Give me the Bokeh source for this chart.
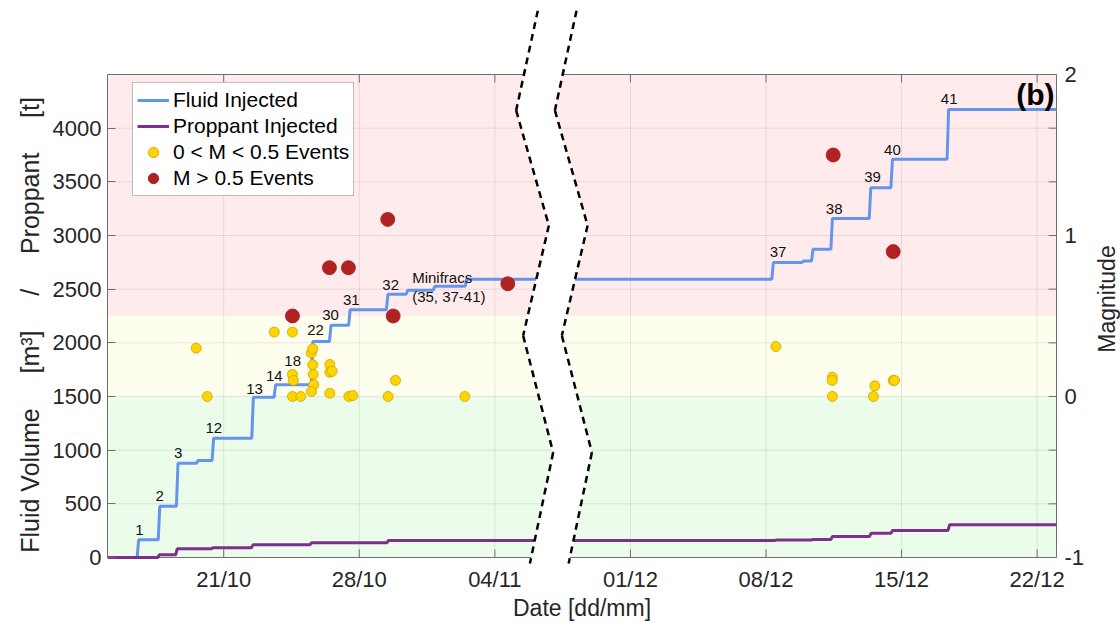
import math
import numpy as np
from bokeh.plotting import figure
from bokeh.models import (Range1d, FixedTicker, BoxAnnotation, PolyAnnotation,
                          Label, Legend, LegendItem, ColumnDataSource, Arrow)
from bokeh.core.properties import value
from bokeh.embed import file_html
from bokeh.resources import INLINE

FONT = "Liberation Sans"
INK = "#262626"
AXIS = "#6e6e6e"
NB = "\u00a0"

# ---------------- data (time = days since 15/10) ----------------
tick_days = [6, 13, 20, 47, 54, 61, 68]
tick_labels = ["21/10", "28/10", "04/11", "01/12", "08/12", "15/12", "22/12"]
GAP_START = 35      # days after this are shifted left (broken axis)
GAP_SHIFT = 20
X_MAX = 49
END_DAY = X_MAX + GAP_SHIFT

fluid_rise_day = [1.53, 2.62, 3.56, 4.60, 5.40, 7.45, 8.60, 10.52, 11.46, 12.45, 14.40,
                  15.42, 16.82, 18.47, 54.30, 55.85, 56.35, 57.35, 59.33, 60.45, 63.35]
fluid_level = [165, 478, 879, 904, 1112, 1493, 1610, 2012, 2163, 2309, 2452,
               2490, 2527, 2592, 2748, 2763, 2872, 3158, 3444, 3711, 4175]

prop_rise_day = [2.60, 3.52, 5.37, 7.43, 10.45, 14.42, 54.45, 56.35, 57.35, 59.35, 60.45, 63.40]
prop_level = [25, 81, 90, 118, 137, 158, 162, 168, 196, 227, 252, 305]

small_day = [4.58, 5.15, 8.61, 9.55, 9.55, 9.60, 9.55, 9.98, 10.52, 10.60, 10.60, 10.62,
             10.65, 10.53, 11.48, 11.48, 11.60, 11.48, 12.46, 12.67, 14.49, 14.87, 18.45,
             54.51, 57.42, 57.42, 57.43, 59.62, 59.55, 60.57, 60.64]
small_mag = [0.30, 0.00, 0.40, 0.40, 0.137, 0.10, 0.00, 0.00, 0.27, 0.296, 0.197, 0.137,
             0.073, 0.031, 0.199, 0.151, 0.157, 0.02, 0.00, 0.006, 0.00, 0.10, 0.00,
             0.31, 0.12, 0.10, 0.00, 0.066, 0.00, 0.10, 0.10]

large_day = [9.55, 11.46, 12.44, 14.47, 14.75, 20.67, 57.47, 60.57]
large_mag = [0.50, 0.80, 0.80, 1.10, 0.50, 0.70, 1.50, 0.90]

stage_text = ["1", "2", "3", "12", "13", "14", "18", "22", "30", "31", "32",
              "37", "38", "39", "40", "41"]
stage_day = [1.65, 2.70, 3.65, 5.49, 7.59, 8.61, 9.56, 10.74, 11.52, 12.59, 14.62,
             54.62, 57.52, 59.50, 60.53, 63.46]
stage_vol = [252, 572, 973, 1206, 1566, 1690, 1828, 2123, 2256, 2396, 2536,
             2847, 3245, 3546, 3801, 4268]

note_text = ["Minifracs", "(35, 37-41)"]
note_day = [15.73, 15.73]
note_vol = [2608, 2436]

vol_ticks = list(range(0, 4001, 500))
VOL_MAX = 4500
mag_ticks = [-1, 0, 1, 2]
zone_edges = [-1, 0, 0.5, 2]                       # magnitude bands
zone_colors = ["#ebfceb", "#fefeee", "#ffebeb"]

# ---------------- layout geometry (pixels) ----------------
AX_LEFT, AX_RIGHT = 107, 1056     # drawn axes box
AX_TOP, AX_BOT = 74, 557
CANVAS_W, CANVAS_H = 1120, 625
FR_TOP, FR_BOT = 10, CANVAS_H     # plotting frame covers everything right of the y axis
PX_PER_DAY = (AX_RIGHT - AX_LEFT) / X_MAX
PX_PER_VOL = (AX_BOT - AX_TOP) / VOL_MAX
X_FULL = X_MAX + (CANVAS_W - AX_RIGHT) / PX_PER_DAY
Y0 = -(FR_BOT - AX_BOT) / PX_PER_VOL
Y1 = VOL_MAX + (AX_TOP - FR_TOP) / PX_PER_VOL
TICK_PX = 8
TICK_VOL = TICK_PX / PX_PER_VOL
TICK_DAY = TICK_PX / PX_PER_DAY


def vol_to_mag(v):
    return (v - 1500.0) / 1500.0


# break marker (decoration), in plot-x / volume units
BREAK_X = [22.22, 21.10, 22.79, 21.46, 23.01, 21.81]
BREAK_Y = [Y1, 4165, 3093, 2068, 978, -6 / PX_PER_VOL]
BREAK_W = 2.0


def to_plot(days):
    d = np.asarray(days, dtype=float)
    return np.where(d > GAP_START, d - GAP_SHIFT, d)


def step_path(rise, levels, end, ramp=0.08):
    xs, ys, prev = [0.0], [0.0], 0.0
    for t, v in zip(rise, levels):
        xs += [t, t + ramp]
        ys += [prev, v]
        prev = v
    xs.append(end)
    ys.append(prev)
    return to_plot(xs), ys


# ---------------- figure ----------------
p = figure(frame_width=CANVAS_W - AX_LEFT, frame_height=FR_BOT - FR_TOP,
           x_range=Range1d(0, X_FULL), y_range=Range1d(Y0, Y1),
           x_axis_location=None,
           output_backend="svg", toolbar_location=None,
           min_border_left=AX_LEFT, min_border_right=0, min_border_top=FR_TOP,
           min_border_bottom=0,
           background_fill_color="white", border_fill_color="white")
p.outline_line_color = None
p.extra_y_ranges = {"mag": Range1d(vol_to_mag(Y0), vol_to_mag(Y1))}
p.xgrid.visible = False
p.ygrid.visible = False

for i in range(3):
    p.add_layout(BoxAnnotation(left=0, right=X_MAX, bottom=zone_edges[i], top=zone_edges[i + 1],
                               y_range_name="mag", fill_color=zone_colors[i], fill_alpha=1.0,
                               line_alpha=0, level="image"))

xt = [float(v) for v in to_plot(tick_days)]
nx = len(xt)

# grid lines (inside the axes box only)
p.segment(x0=xt, y0=[0] * nx, x1=xt, y1=[VOL_MAX] * nx,
          line_color="black", line_alpha=0.09, line_width=1)
p.segment(x0=[0] * len(vol_ticks), y0=vol_ticks, x1=[X_MAX] * len(vol_ticks), y1=vol_ticks,
          line_color="black", line_alpha=0.09, line_width=1)
# top, right and bottom edges of the box, with inward ticks
p.segment(x0=[0, X_MAX, 0], y0=[VOL_MAX, 0, 0], x1=[X_MAX, X_MAX, X_MAX],
          y1=[VOL_MAX, VOL_MAX, 0], line_color=AXIS, line_width=1)
p.segment(x0=xt + xt, y0=[VOL_MAX] * nx + [0] * nx, x1=xt + xt,
          y1=[VOL_MAX - TICK_VOL] * nx + [TICK_VOL] * nx, line_color=AXIS, line_width=1)
rt = vol_ticks + [VOL_MAX]
p.segment(x0=[X_MAX] * len(rt), y0=rt, x1=[X_MAX - TICK_DAY] * len(rt), y1=rt,
          line_color=AXIS, line_width=1)

# date axis labels
p.text(x=xt, y=[0] * nx, text=tick_labels, y_offset=9, text_font=value(FONT),
       text_font_size="22px", text_color=INK, text_align="center", text_baseline="top")
p.text(x=[X_MAX / 2], y=[0], text=["Date [dd/mm]"], y_offset=50, text_font=value(FONT),
       text_font_size="23px", text_color=INK, text_align="center",
       text_baseline="middle")

# right (magnitude) axis labels
p.text(x=[X_MAX] * len(mag_ticks), y=mag_ticks, text=[str(m) for m in mag_ticks],
       y_range_name="mag", x_offset=8, text_font=value(FONT), text_font_size="22px",
       text_color=INK, text_align="left", text_baseline="middle")
p.text(x=[X_MAX], y=[vol_to_mag(VOL_MAX / 2)], text=["Magnitude"], y_range_name="mag",
       x_offset=50, y_offset=-17, angle=math.pi / 2, text_font=value(FONT),
       text_font_size="23px", text_color=INK, text_align="center", text_baseline="middle")

# left (volume) axis
ya = p.yaxis[0]
ya.axis_line_color = AXIS
ya.major_tick_line_color = AXIS
ya.major_tick_in = TICK_PX
ya.major_tick_out = 0
ya.minor_tick_in = 0
ya.minor_tick_out = 0
ya.major_label_text_font = FONT
ya.major_label_text_font_size = "22px"
ya.major_label_text_color = INK
ya.axis_label_text_font = FONT
ya.axis_label_text_font_style = "normal"
ya.axis_label_text_color = INK
ya.ticker = FixedTicker(ticks=vol_ticks)
ya.bounds = (0, VOL_MAX)
GAP = NB * 5
ya.axis_label = ("Fluid" + NB + "Volume" + GAP + "[m³]" + GAP + "/" + GAP + "Proppant"
                 + GAP + "[t]" + NB * 2)
ya.axis_label_text_font_size = "25px"
ya.major_label_standoff = 6
ya.axis_label_standoff = 6

# ---------------- series ----------------
fx, fy = step_path(fluid_rise_day, fluid_level, END_DAY)
px_, py_ = step_path(prop_rise_day, prop_level, END_DAY)
r_fluid = p.line(fx, fy, line_color="#6495ed", line_width=3)
r_prop = p.line(px_, py_, line_color="#7e2f8e", line_width=3)
r_small = p.scatter(to_plot(small_day), small_mag, y_range_name="mag", size=10,
                    fill_color="#ffd500", line_color="#c9a200", line_width=0.8)
r_large = p.scatter(to_plot(large_day), large_mag, y_range_name="mag", size=14,
                    fill_color="#b22222", line_color="#9a1b1b", line_width=0.8)

p.text(to_plot(stage_day), stage_vol, text=stage_text, text_font=value(FONT),
       text_font_size="15px", text_color="#111111", text_align="center",
       text_baseline="middle")
p.text(to_plot(note_day), note_vol, text=note_text, text_font=value(FONT),
       text_font_size="15px", text_color="#111111", text_align="left",
       text_baseline="middle")

# ---------------- break marker ----------------
bx_r = [x + BREAK_W for x in BREAK_X]
p.add_layout(PolyAnnotation(xs=BREAK_X + bx_r[::-1], ys=BREAK_Y + BREAK_Y[::-1],
                            fill_color="white", fill_alpha=1.0, line_alpha=0,
                            level="overlay"))
for xs in (BREAK_X, bx_r):
    src = ColumnDataSource(dict(x0=xs[:-1], y0=BREAK_Y[:-1], x1=xs[1:], y1=BREAK_Y[1:]))
    p.add_layout(Arrow(end=None, source=src, x_start="x0", y_start="y0",
                       x_end="x1", y_end="y1", line_color="black", line_width=2.5,
                       line_dash="7 5", level="overlay"))

# ---------------- labels ----------------
p.add_layout(Label(x=X_MAX, y=VOL_MAX, text="(b)", text_font=FONT, text_font_size="30px",
                   text_font_style="bold", text_color="black", text_align="right",
                   text_baseline="top", x_offset=-2, y_offset=-3))

legend = Legend(items=[LegendItem(label="Fluid Injected", renderers=[r_fluid]),
                       LegendItem(label="Proppant Injected", renderers=[r_prop]),
                       LegendItem(label="0 < M < 0.5 Events", renderers=[r_small]),
                       LegendItem(label="M > 0.5 Events", renderers=[r_large])],
                location=(25, FR_BOT - 84 - 112), margin=0, padding=4, spacing=0,
                glyph_width=32, glyph_height=26, label_height=26, label_standoff=4,
                label_text_font=FONT, label_text_font_size="21px", label_text_color="black",
                border_line_color="#7a7a7a", border_line_width=1,
                background_fill_color="white", background_fill_alpha=1.0)
p.add_layout(legend)

open("out.html", "w").write(file_html(p, INLINE))
